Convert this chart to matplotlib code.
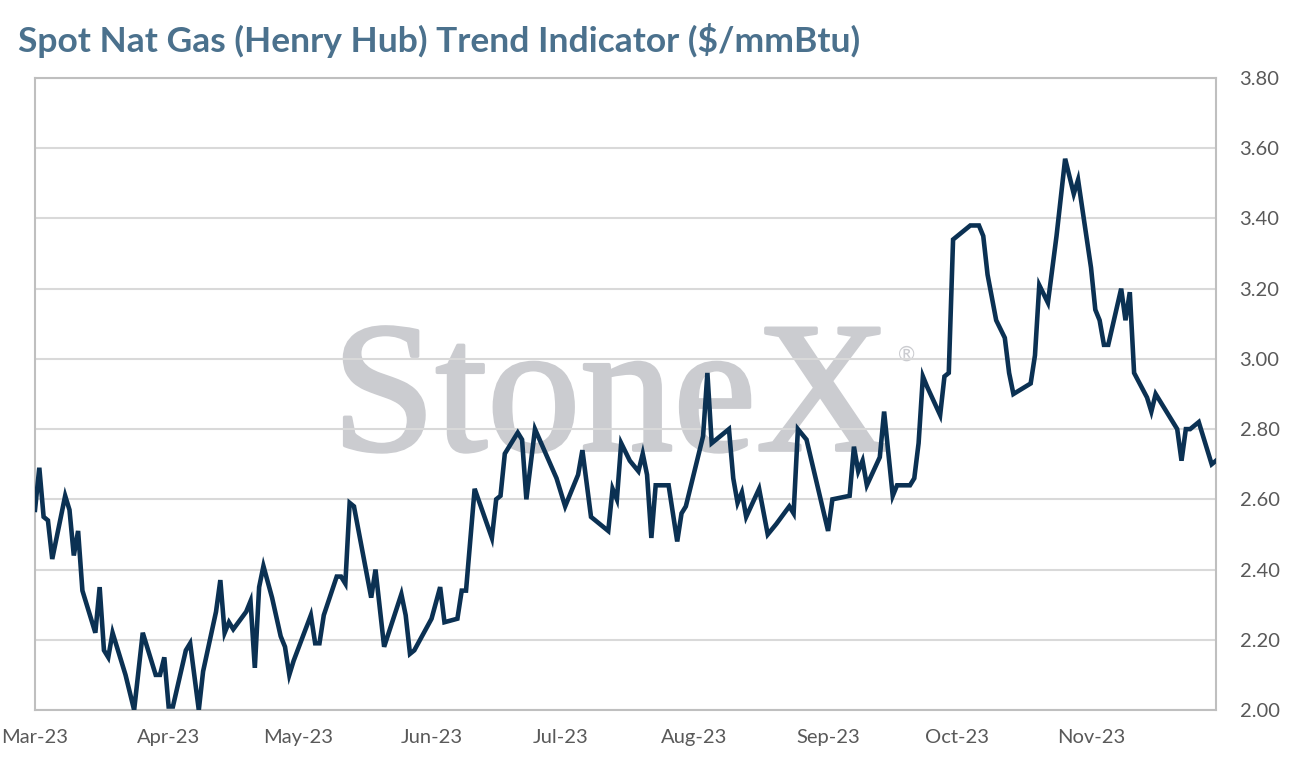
import numpy as np
import pandas as pd
import matplotlib
matplotlib.use("Agg")
import matplotlib.pyplot as plt
import matplotlib.dates as mdates
import matplotlib.patheffects as pe

# Henry Hub spot (turning points)
dates = [
    "2023-03-01", "2023-03-02", "2023-03-03", "2023-03-04", "2023-03-05", "2023-03-08",
    "2023-03-09", "2023-03-10", "2023-03-11", "2023-03-12", "2023-03-15", "2023-03-16",
    "2023-03-17", "2023-03-18", "2023-03-19", "2023-03-22", "2023-03-24", "2023-03-26",
    "2023-03-29", "2023-03-30", "2023-03-31", "2023-04-01", "2023-04-02", "2023-04-05",
    "2023-04-06", "2023-04-08", "2023-04-09", "2023-04-12", "2023-04-13", "2023-04-14",
    "2023-04-15", "2023-04-16", "2023-04-19", "2023-04-20", "2023-04-21", "2023-04-22",
    "2023-04-23", "2023-04-25", "2023-04-27", "2023-04-28", "2023-04-29", "2023-04-30",
    "2023-05-04", "2023-05-05", "2023-05-06", "2023-05-07", "2023-05-10", "2023-05-11",
    "2023-05-12", "2023-05-13", "2023-05-14", "2023-05-18", "2023-05-19", "2023-05-21",
    "2023-05-25", "2023-05-26", "2023-05-27", "2023-05-28", "2023-06-01", "2023-06-03",
    "2023-06-04", "2023-06-07", "2023-06-08", "2023-06-09", "2023-06-11", "2023-06-15",
    "2023-06-16", "2023-06-17", "2023-06-18", "2023-06-21", "2023-06-22", "2023-06-23",
    "2023-06-25", "2023-06-30", "2023-07-02", "2023-07-05", "2023-07-06", "2023-07-08",
    "2023-07-12", "2023-07-13", "2023-07-14", "2023-07-15", "2023-07-17", "2023-07-19",
    "2023-07-20", "2023-07-21", "2023-07-22", "2023-07-23", "2023-07-26", "2023-07-28",
    "2023-07-29", "2023-07-30", "2023-08-03", "2023-08-04", "2023-08-05", "2023-08-09",
    "2023-08-10", "2023-08-11", "2023-08-12", "2023-08-13", "2023-08-16", "2023-08-18",
    "2023-08-20", "2023-08-23", "2023-08-24", "2023-08-25", "2023-08-27", "2023-09-01",
    "2023-09-02", "2023-09-06", "2023-09-07", "2023-09-08", "2023-09-09", "2023-09-10",
    "2023-09-13", "2023-09-14", "2023-09-16", "2023-09-17", "2023-09-20", "2023-09-21",
    "2023-09-22", "2023-09-23", "2023-09-24", "2023-09-27", "2023-09-28", "2023-09-29",
    "2023-09-30", "2023-10-04", "2023-10-06", "2023-10-07", "2023-10-08", "2023-10-10",
    "2023-10-12", "2023-10-13", "2023-10-14", "2023-10-18", "2023-10-19", "2023-10-20",
    "2023-10-22", "2023-10-24", "2023-10-26", "2023-10-28", "2023-10-29", "2023-11-01",
    "2023-11-02", "2023-11-03", "2023-11-04", "2023-11-05", "2023-11-08", "2023-11-09",
    "2023-11-10", "2023-11-11", "2023-11-14", "2023-11-15", "2023-11-16", "2023-11-21",
    "2023-11-22", "2023-11-23", "2023-11-24", "2023-11-26", "2023-11-29", "2023-11-30",
]
prices = [
    2.57, 2.69, 2.55, 2.54, 2.43, 2.61,
    2.57, 2.44, 2.51, 2.34, 2.22, 2.35,
    2.17, 2.15, 2.22, 2.10, 2.00, 2.22,
    2.10, 2.10, 2.15, 2.01, 2.01, 2.17,
    2.19, 2.00, 2.11, 2.28, 2.37, 2.22,
    2.25, 2.23, 2.28, 2.31, 2.12, 2.35,
    2.41, 2.32, 2.21, 2.18, 2.10, 2.14,
    2.27, 2.19, 2.19, 2.27, 2.38, 2.38,
    2.36, 2.59, 2.58, 2.32, 2.40, 2.18,
    2.33, 2.27, 2.16, 2.17, 2.26, 2.35,
    2.25, 2.26, 2.34, 2.34, 2.63, 2.49,
    2.60, 2.61, 2.73, 2.79, 2.77, 2.60,
    2.80, 2.66, 2.58, 2.67, 2.74, 2.55,
    2.51, 2.63, 2.60, 2.76, 2.71, 2.68,
    2.73, 2.67, 2.49, 2.64, 2.64, 2.48,
    2.56, 2.58, 2.78, 2.96, 2.76, 2.80,
    2.66, 2.59, 2.62, 2.55, 2.63, 2.50,
    2.53, 2.58, 2.56, 2.80, 2.77, 2.51,
    2.60, 2.61, 2.75, 2.68, 2.71, 2.64,
    2.72, 2.85, 2.61, 2.64, 2.64, 2.66,
    2.76, 2.95, 2.92, 2.84, 2.95, 2.96,
    3.34, 3.38, 3.38, 3.35, 3.24, 3.11,
    3.06, 2.96, 2.90, 2.93, 3.01, 3.21,
    3.16, 3.35, 3.57, 3.47, 3.51, 3.26,
    3.14, 3.11, 3.04, 3.04, 3.20, 3.11,
    3.19, 2.96, 2.89, 2.85, 2.90, 2.80,
    2.71, 2.80, 2.80, 2.82, 2.70, 2.71,
]

title = "Spot Nat Gas (Henry Hub) Trend Indicator ($/mmBtu)"
yticks = [2.0, 2.2, 2.4, 2.6, 2.8, 3.0, 3.2, 3.4, 3.6, 3.8]

x = pd.to_datetime(dates)

plt.rcParams["font.family"] = ["Lato", "DejaVu Sans"]

fig = plt.figure(figsize=(12.94, 7.71), dpi=100)
ax = fig.add_axes([35 / 1294, 1 - 710 / 771, (1216 - 35) / 1294, (710 - 78) / 771])

# watermark sits behind the grid
wm = ax.text(0.488, 0.482, "StoneX", transform=ax.transAxes, ha="center", va="center",
             fontsize=134, family="Liberation Serif", color="#cbccd0", zorder=0)
wm.set_path_effects([pe.withStroke(linewidth=2.5, foreground="#cbccd0")])
ax.text(0.738, 0.562, "\u00ae", transform=ax.transAxes, ha="center", va="center",
        fontsize=15, color="#cbccd0", zorder=0)

ax.plot(x, prices, color="#0b3153", lw=3.3, solid_joinstyle="miter", zorder=3)

ax.set_ylim(2.0, 3.8)
ax.set_yticks(yticks)
ax.yaxis.set_major_formatter(plt.FuncFormatter(lambda v, p: f"{v:.2f}"))
ax.yaxis.tick_right()
ax.set_xlim(pd.Timestamp("2023-03-01"), pd.Timestamp("2023-11-30"))
ax.xaxis.set_major_locator(mdates.MonthLocator())
ax.xaxis.set_major_formatter(mdates.DateFormatter("%b-%y"))

ax.grid(axis="y", color="#d9d9d9", lw=1.5, zorder=1)
ax.set_axisbelow(True)
for s in ["left", "right", "bottom", "top"]:
    ax.spines[s].set_color("#bfbfbf")
    ax.spines[s].set_linewidth(1.5)
ax.tick_params(length=0, labelsize=14.5, colors="#595959")
ax.tick_params(axis="y", pad=17)
ax.tick_params(axis="x", pad=14)

fig.text(18 / 1294, 1 - 40 / 771, title, ha="left", va="center", fontsize=25.5,
         fontweight="bold", color="#4b718d")

fig.savefig("out.png", dpi=100)
